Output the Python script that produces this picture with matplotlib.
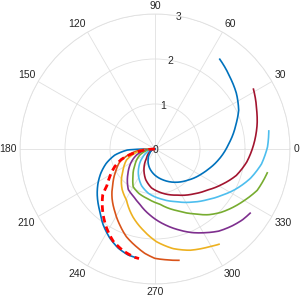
import numpy as np
import matplotlib.pyplot as plt

plt.rcParams["font.family"] = ["Liberation Sans", "DejaVu Sans"]

# MATLAB default line colours
c_blue = (0.000, 0.447, 0.741)
c_orange = (0.850, 0.325, 0.098)
c_yellow = (0.929, 0.694, 0.125)
c_purple = (0.494, 0.184, 0.556)
c_green = (0.466, 0.674, 0.188)
c_lblue = (0.301, 0.745, 0.933)
c_dred = (0.635, 0.078, 0.184)

# curves: angle in degrees, radius
th_1 = [180, 180.5, 182, 188.5, 196.4, 204.1, 211.1, 218, 228.5, 235.6, 243.1, 249.6, 255.7, 260]
r_1 = [0, 0.3, 0.61, 0.90, 1.13, 1.32, 1.48, 1.63, 1.85, 2.04, 2.22, 2.35, 2.43, 2.45]

th_2 = [180, 183, 192.6, 199.8, 209.9, 219.3, 228.8, 237.2, 245.1, 251.9, 259.2, 264.4, 269.9, 275.2, 282.1]
r_2 = [0, 0.3, 0.61, 0.83, 1.01, 1.21, 1.45, 1.65, 1.86, 2.05, 2.21, 2.33, 2.43, 2.47, 2.53]

th_3 = [180, 184, 192, 201.1, 213.4, 225.7, 231, 240.8, 252.1, 261.6, 270.9, 280.3, 289, 297.6, 303.9]
r_3 = [0, 0.25, 0.46, 0.68, 0.85, 1.07, 1.16, 1.30, 1.59, 1.82, 2.06, 2.25, 2.38, 2.47, 2.55]

th_4 = [180, 186, 198, 210.6, 222.1, 231.3, 236.7, 246, 254.4, 265.5, 277.6, 286.2, 293.8, 301, 307.8, 315.1, 320.9, 326]
r_4 = [0, 0.2, 0.43, 0.63, 0.81, 0.98, 1.08, 1.16, 1.27, 1.47, 1.70, 1.87, 2.03, 2.17, 2.31, 2.42, 2.50, 2.55]

th_5 = [180, 188, 201.5, 218.4, 231.7, 240, 250, 262, 275, 290, 301, 309, 316, 323, 330, 338, 348]
r_5 = [0, 0.15, 0.36, 0.57, 0.79, 0.97, 1.05, 1.12, 1.23, 1.46, 1.68, 1.88, 2.03, 2.16, 2.29, 2.45, 2.55]

th_6 = [180, 195, 213, 227.5, 239, 250, 262, 277, 292, 305, 316, 325, 333, 343, 352, 361, 369]
r_6 = [0, 0.12, 0.32, 0.53, 0.71, 0.87, 1.00, 1.12, 1.26, 1.44, 1.62, 1.80, 1.99, 2.22, 2.39, 2.50, 2.56]

th_7 = [180, 205, 227.6, 240, 253, 265, 280, 296, 311, 322, 332, 342, 352, 363, 374, 381, 391.3]
r_7 = [0, 0.10, 0.28, 0.49, 0.71, 0.87, 1.00, 1.14, 1.32, 1.48, 1.68, 1.90, 2.06, 2.20, 2.34, 2.42, 2.56]

th_8 = [180, 219.6, 237.9, 255.1, 269.6, 284.6, 300.7, 316.9, 332.4, 339.5, 349.6, 363.9, 376.9, 384.9, 394.3, 404, 414.2]
r_8 = [0, 0.15, 0.29, 0.45, 0.58, 0.71, 0.86, 1.01, 1.18, 1.27, 1.42, 1.64, 1.88, 2.05, 2.19, 2.31, 2.46]

th_dash = [181, 185.6, 192, 197.1, 203.8, 211.5, 217.2, 221.4, 231.7, 238.5, 245.6, 252.6, 259.4, 261.7]
r_dash = [0, 0.23, 0.535, 0.78, 0.98, 1.18, 1.34, 1.55, 1.86, 2.06, 2.25, 2.37, 2.45, 2.46]

curves = [
    (th_1, r_1, c_blue),
    (th_2, r_2, c_orange),
    (th_3, r_3, c_yellow),
    (th_4, r_4, c_purple),
    (th_5, r_5, c_green),
    (th_6, r_6, c_lblue),
    (th_7, r_7, c_dred),
    (th_8, r_8, c_blue),
]

r_ticks = [0, 1, 2, 3]
theta_ticks = list(range(0, 360, 30))
txt_col = "#262626"

fig = plt.figure(figsize=(3.0, 2.99), dpi=100)
ax = fig.add_axes([0.0667, 0.0502, 0.9, 0.903], projection="polar")

lines = []
for th, r, col in curves:
    ln, = ax.plot(np.deg2rad(th), r, color=col, lw=1.2)
    lines.append(ln)
ln, = ax.plot(np.deg2rad(th_dash), r_dash, color="red", lw=2.0, ls=(0, (2.4, 1.5)))
lines.append(ln)
# let the polar transform draw each segment as a spiral piece
for ln in lines:
    ln.get_path()._interpolation_steps = 30

ax.set_rlim(0, 3)
ax.set_rticks(r_ticks)
ax.set_rlabel_position(80)
ax.set_thetagrids(theta_ticks, labels=[""] * len(theta_ticks))
ax.grid(color="#e0e0e0", lw=0.6)
ax.spines["polar"].set_color("#e0e0e0")
ax.spines["polar"].set_linewidth(0.6)
ax.tick_params(axis="y", labelsize=7.5, labelcolor=txt_col)
for lab in ax.get_yticklabels():
    lab.set_horizontalalignment("center")
    lab.set_verticalalignment("center_baseline")

# angle labels sit just outside the rim, aligned away from the centre (MATLAB style)
for t in theta_ticks:
    c, s = np.cos(np.deg2rad(t)), np.sin(np.deg2rad(t))
    ha = "left" if c > 0.1 else ("right" if c < -0.1 else "center")
    va = "bottom" if s > 0.1 else ("top" if s < -0.1 else "center")
    ax.text(np.deg2rad(t), 3.07, str(t), ha=ha, va=va, fontsize=7.5, color=txt_col)

fig.savefig("out.png", dpi=100)
